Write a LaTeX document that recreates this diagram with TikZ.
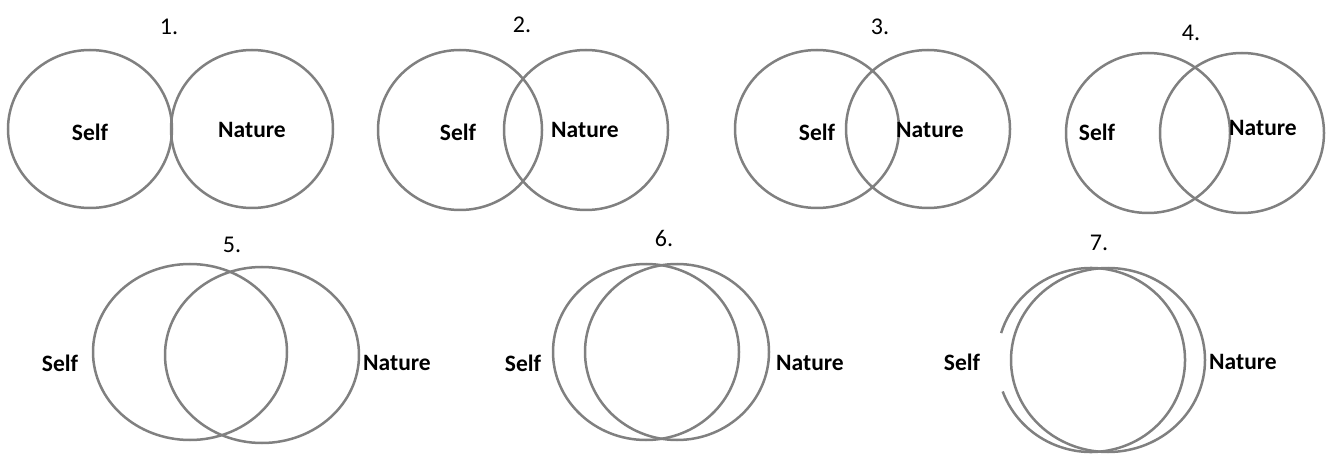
\documentclass[tikz,border=0pt]{standalone}
\usepackage{fontspec}
\setmainfont{Carlito}
\begin{document}
\begin{tikzpicture}[x=1pt,y=1pt,
  ring/.style={draw=ringgray,line width=2.5pt},
  lbl/.style={font=\fontsize{23.5}{26}\selectfont\bfseries,inner sep=0pt},
  num/.style={font=\fontsize{24}{27}\selectfont,inner sep=0pt}]
\definecolor{ringgray}{RGB}{128,128,128}
\useasboundingbox (0,0) rectangle (1330,453);
% Panel 1
\draw[ring] (90,324) ellipse [x radius=82, y radius=79];
\draw[ring] (252,324) ellipse [x radius=81, y radius=79];
\node[num] (n1) at (169,426) {1.};
\node[lbl] (s1) at (90,321) {Self};
\node[lbl] (a1) at (252,323) {Nature};
% Panel 2
\draw[ring] (460,323) ellipse [x radius=82, y radius=80];
\draw[ring] (586,323) ellipse [x radius=82, y radius=80];
\node[num] (n2) at (522,428) {2.};
\node[lbl] (s2) at (458,321) {Self};
\node[lbl] (a2) at (585,323) {Nature};
% Panel 3
\draw[ring] (817,324) ellipse [x radius=82, y radius=79];
\draw[ring] (928,324) ellipse [x radius=82, y radius=79];
\node[num] (n3) at (880,426) {3.};
\node[lbl] (s3) at (817,321) {Self};
\node[lbl] (a3) at (930,323) {Nature};
% Panel 4
\draw[ring] (1148,320) ellipse [x radius=82, y radius=80];
\draw[ring] (1242,320) ellipse [x radius=82, y radius=80];
\node[num] (n4) at (1191,420) {4.};
\node[lbl] (s4) at (1097,321) {Self};
\node[lbl] (a4) at (1263,325) {Nature};
% Panel 5
\draw[ring] (190,101) ellipse [x radius=97, y radius=88];
\draw[ring] (262,98) ellipse [x radius=97, y radius=88];
\node[num] (n5) at (232,208) {5.};
\node[lbl] (s5) at (60,90) {Self};
\node[lbl] (a5) at (397,90) {Nature};
% Panel 6
\draw[ring] (646,101) ellipse [x radius=93, y radius=88];
\draw[ring] (677,101) ellipse [x radius=92, y radius=88];
\node[num] (n6) at (664,215) {6.};
\node[lbl] (s6) at (523,90) {Self};
\node[lbl] (a6) at (810,90) {Nature};
% Panel 7
\coordinate (c7) at (1091,93);
\draw[ring] ([shift={(200:94 and 92)}]c7) arc[start angle=200, end angle=523, x radius=94, y radius=92];
\draw[ring] (1108,93) ellipse [x radius=97, y radius=92];
\node[num] (n7) at (1099,210) {7.};
\node[lbl] (s7) at (962,91) {Self};
\node[lbl] (a7) at (1243,91) {Nature};
\end{tikzpicture}
\end{document}
